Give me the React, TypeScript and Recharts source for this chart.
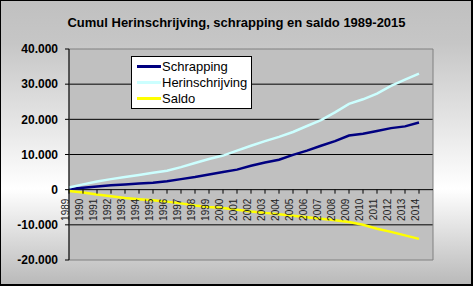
import { LineChart, Line, XAxis, YAxis, CartesianGrid, ReferenceLine, ReferenceArea, Legend } from "recharts";

const years = [
  "1989", "1990", "1991", "1992", "1993", "1994", "1995", "1996", "1997",
  "1998", "1999", "2000", "2001", "2002", "2003", "2004", "2005", "2006",
  "2007", "2008", "2009", "2010", "2011", "2012", "2013", "2014", "2015",
];

const schrapping = [
  200, 550, 900, 1250, 1500, 1750, 2000, 2400, 3000, 3600, 4300, 5000, 5700,
  6800, 7700, 8500, 9900, 11100, 12500, 13800, 15400, 15900, 16700, 17500,
  18000, 19100,
];
const herinschrijving = [
  600, 1500, 2300, 3000, 3600, 4200, 4800, 5400, 6400, 7600, 8700, 9700, 11100,
  12500, 13800, 15000, 16400, 18100, 19800, 22000, 24400, 25700, 27300, 29500,
  31300, 33000,
];
const saldo = [
  -350, -800, -1400, -1900, -2400, -2700, -3000, -3400, -3900, -4500, -4900,
  -5200, -5700, -6200, -6600, -7000, -7450, -7850, -8300, -8700, -9200, -10000,
  -11100, -12000, -13000, -14000,
];

const seriesOrder = ["Schrapping", "Herinschrijving", "Saldo"];
const yTicks = [-20000, -10000, 0, 10000, 20000, 30000, 40000];

const data = years.map((year, i) => ({
  year,
  Schrapping: schrapping[i] ?? null,
  Herinschrijving: herinschrijving[i] ?? null,
  Saldo: saldo[i] ?? null,
}));

const W = 473;
const H = 286;
const margin = { top: 49, right: 40, bottom: 25, left: 9 };
const yMin = yTicks[0];
const yMax = yTicks[yTicks.length - 1];
const plotH = H - margin.top - margin.bottom - 1;

const fmt = (v: number) => String(v).replace(/\B(?=(\d{3})+(?!\d))/g, ".");

// x labels hang under the zero line, not under the plot
function YearTick(props: any) {
  const { x, y, payload, index } = props;
  if (index === years.length - 1) return null;
  const zeroY = y - (plotH * (0 - yMin)) / (yMax - yMin);
  return (
    <g>
      <line x1={x} x2={x} y1={zeroY} y2={zeroY + 4} stroke="#000" />
      <text
        x={x}
        y={zeroY + 9}
        transform={`rotate(-90 ${x} ${zeroY + 9})`}
        textAnchor="end"
        fontSize={10}
        fill="#222"
        fontFamily="'Liberation Sans', Arial, sans-serif"
      >
        {payload.value}
      </text>
    </g>
  );
}

function LegendBox(props: any) {
  const payload = [...(props.payload || [])].sort(
    (a: any, b: any) => seriesOrder.indexOf(a.value) - seriesOrder.indexOf(b.value)
  );
  return (
    <div
      style={{
        background: "#fff",
        border: "1px solid #000",
        padding: "1px 0 2px 5px",
        fontFamily: "'Liberation Sans', Arial, sans-serif",
        fontSize: 13,
        color: "#000",
      }}
    >
      {payload.map((entry: any) => (
        <div key={entry.value} style={{ display: "flex", alignItems: "center", height: 16 }}>
          <span style={{ display: "inline-block", width: 24, height: 3, background: entry.color, marginRight: 1 }} />
          <span>{entry.value}</span>
        </div>
      ))}
    </div>
  );
}

export default function App() {
  return (
    <div
      style={{
        position: "relative",
        width: W,
        height: H,
        background: "linear-gradient(to bottom, #c0c0c0 0%, #c6c6c6 15%, #ffffff 66%, #b8b8b8 100%)",
      }}
    >
      <style>{"body{margin:0}"}</style>
      <div
        style={{
          position: "absolute",
          top: 15,
          left: 0,
          width: W,
          textAlign: "center",
          fontFamily: "'Liberation Sans', Arial, sans-serif",
          fontWeight: "bold",
          fontSize: 13,
          color: "#000",
        }}
      >
        Cumul Herinschrijving, schrapping en saldo 1989-2015
      </div>
      <LineChart width={W} height={H} data={data} margin={margin}>
        <CartesianGrid
          vertical={false}
          horizontalValues={[-10000, 10000, 20000, 30000]}
          stroke="#000"
          fill="#c0c0c0"
          fillOpacity={1}
        />
        <ReferenceArea
          x1={years[0]}
          x2={years[years.length - 1]}
          y1={yMin}
          y2={yMax}
          fill="none"
          stroke="#808080"
          ifOverflow="visible"
        />
        <XAxis
          dataKey="year"
          interval={0}
          height={1}
          axisLine={false}
          tickLine={false}
          tickSize={0}
          tickMargin={0}
          tick={(p: any) => <YearTick {...p} />}
        />
        <YAxis
          width={60}
          domain={[yMin, yMax]}
          ticks={yTicks}
          tickFormatter={fmt}
          axisLine={{ stroke: "#000" }}
          tickLine={{ stroke: "#000" }}
          tickSize={4}
          tickMargin={7}
          tick={{ fill: "#000", fontSize: 12, fontWeight: "bold", fontFamily: "'Liberation Sans', Arial, sans-serif" }}
        />
        <ReferenceLine y={0} stroke="#000" />
        <Legend
          layout="vertical"
          align="center"
          verticalAlign="middle"
          wrapperStyle={{ left: 131, top: 56, width: 121 }}
          content={<LegendBox />}
        />
        <Line type="linear" dataKey="Schrapping" stroke="#000080" strokeWidth={2.5} dot={false} isAnimationActive={false} />
        <Line type="linear" dataKey="Herinschrijving" stroke="#ccffff" strokeWidth={2.5} dot={false} isAnimationActive={false} />
        <Line type="linear" dataKey="Saldo" stroke="#ffff00" strokeWidth={2.5} dot={false} isAnimationActive={false} />
      </LineChart>
      <div
        style={{
          position: "absolute",
          inset: 0,
          borderTop: "1px solid #000",
          borderLeft: "1px solid #000",
          borderRight: "2px solid #000",
          borderBottom: "2px solid #000",
          pointerEvents: "none",
        }}
      />
    </div>
  );
}
